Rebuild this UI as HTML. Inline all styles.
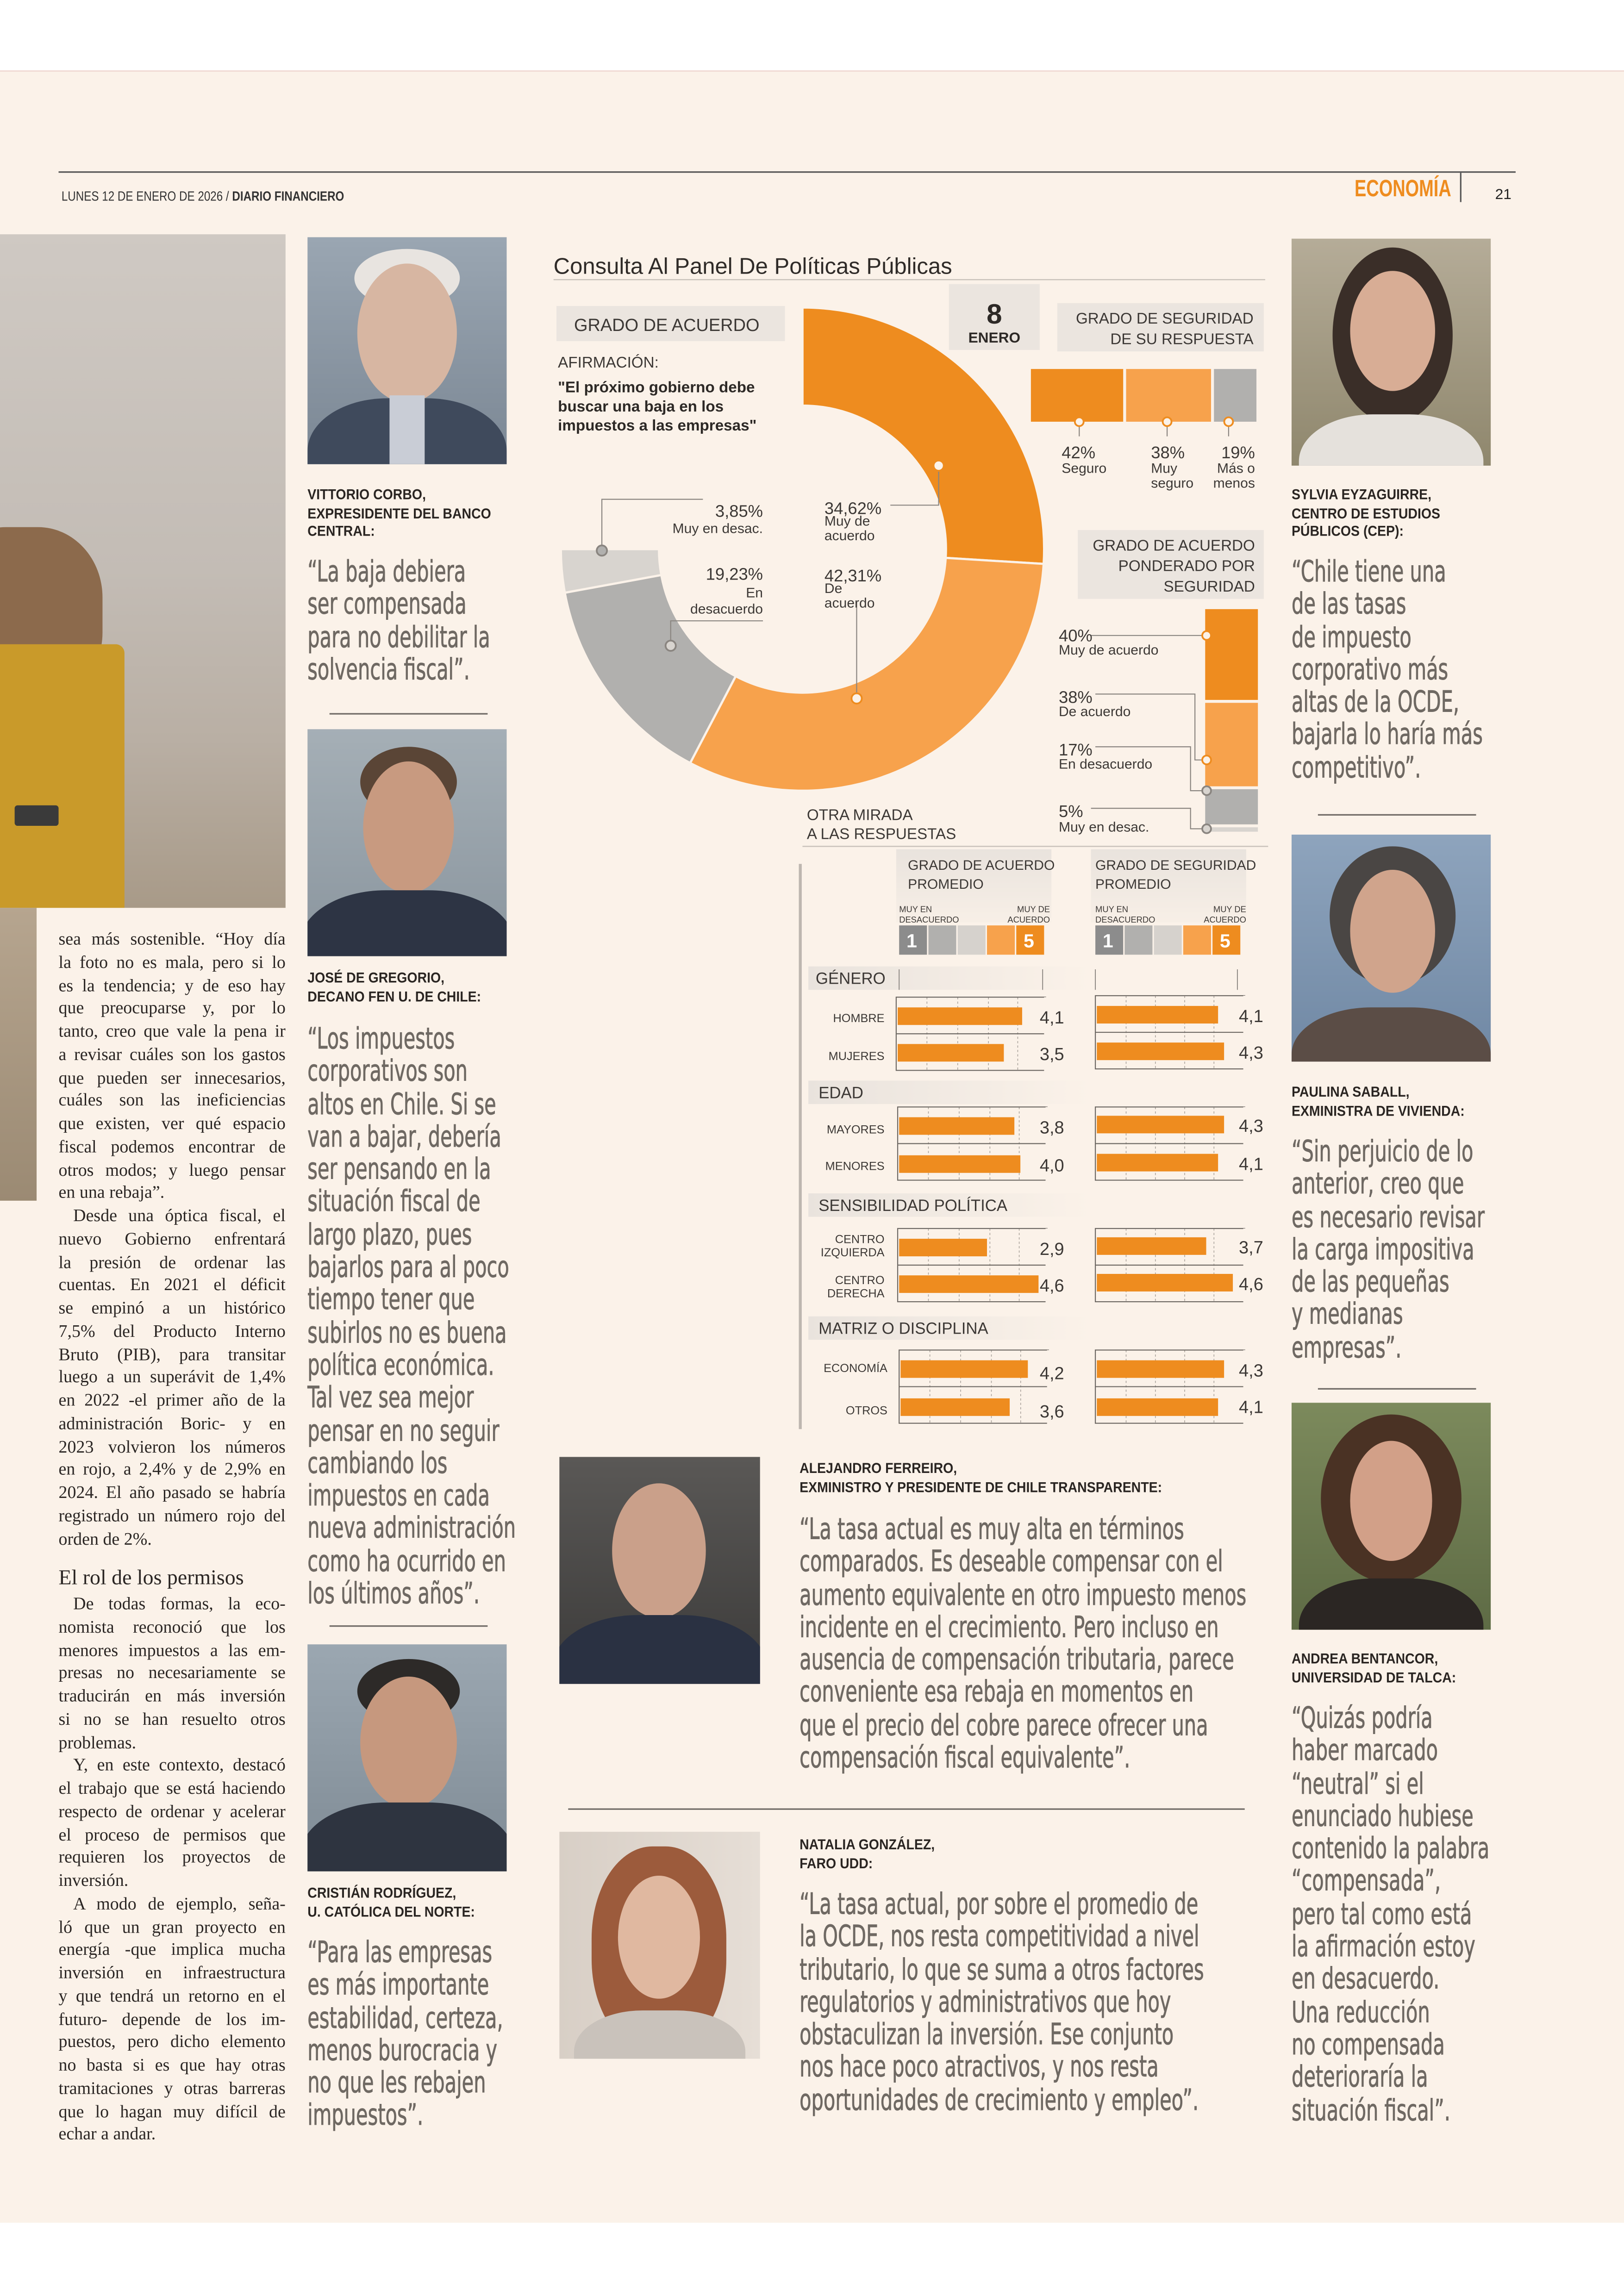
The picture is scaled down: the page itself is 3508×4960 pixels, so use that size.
<!DOCTYPE html>
<html><head><meta charset="utf-8"><style>
html,body{margin:0;padding:0;width:3508px;height:4958px;overflow:hidden;background:#fff}
#w{position:absolute;left:0;top:0;width:1109px;height:1568px;transform:scale(3.1632);transform-origin:0 0;background:#fff;font-family:"Liberation Sans",sans-serif}
.pg{position:absolute;left:0;top:48px;width:1109px;height:1470px;background:#fbf2e9;border-top:1px solid #f1dcd6}
.a{position:absolute}
.ph{position:absolute;overflow:hidden}
.ph div{position:absolute;border-radius:50%}
.cap{position:absolute;font-family:"Liberation Sans Narrow","Liberation Sans",sans-serif;font-weight:bold;font-size:10px;line-height:12.5px;color:#2a2522;white-space:nowrap;transform:scaleX(.9);transform-origin:0 0}
.q{position:absolute;font-family:"Liberation Sans Narrow","DejaVu Sans Condensed",sans-serif;font-size:20px;line-height:22.3px;color:#6f6963;white-space:nowrap;transform:scaleX(.73);transform-origin:0 0;-webkit-text-stroke:0.3px #6f6963}
.body{position:absolute;left:40px;width:155px;font-family:"Liberation Serif",serif;font-size:12px;line-height:15.75px;color:#2b2624}
.body div{text-align:justify;text-align-last:justify;white-space:nowrap;overflow:hidden;height:15.75px}
.body div.l{text-align-last:left}
.body div.i{text-indent:10px}
.sep{position:absolute;height:1px;background:#6e6964}
svg text{font-family:"Liberation Sans Narrow","Liberation Sans",sans-serif}
</style></head><body><div id="w">
<div class="pg"></div>
<div class="a" style="left:0;top:1518px;width:1109px;height:50px;background:#fff"></div>
<!-- header -->
<div class="a" style="left:40px;top:117px;width:995px;height:1px;background:#555"></div>
<div class="a" style="left:42px;top:129px;font-size:9px;color:#333;transform:scaleX(.85);transform-origin:0 0">LUNES 12 DE ENERO DE 2026 / <b>DIARIO FINANCIERO</b></div>
<div class="a" style="left:925px;top:121px;font-size:16px;font-weight:bold;color:#ee8c1f;transform:scaleX(.75);transform-origin:0 0">ECONOMÍA</div>
<div class="a" style="left:997px;top:118px;width:1px;height:20px;background:#555"></div>
<div class="a" style="left:1021px;top:128px;font-size:10px;color:#222">21</div>

<!-- big left photo -->
<div class="ph" style="left:0;top:160px;width:195px;height:460px;background:linear-gradient(180deg,#cfc9c3 0%,#c3bcb5 50%,#b9afa4 75%,#a89a88 100%)">
 <div style="left:-40px;top:200px;width:110px;height:120px;background:#8c6a4c;border-radius:40%"></div>
 <div style="left:-10px;top:280px;width:95px;height:190px;background:#c99a2a;border-radius:6px"></div>
 <div style="left:10px;top:390px;width:30px;height:14px;background:#3a3a3a;border-radius:2px"></div>
</div>
<div class="ph" style="left:0;top:620px;width:25px;height:200px;background:linear-gradient(180deg,#b6a58f,#9b8a73)"></div>

<!-- left body text -->
<div class="body" style="top:634px">
<div>sea más sostenible. “Hoy día</div><div>la foto no es mala, pero si lo</div><div>es la tendencia; y de eso hay</div><div>que preocuparse y, por lo</div><div>tanto, creo que vale la pena ir</div><div>a revisar cuáles son los gastos</div><div>que pueden ser innecesarios,</div><div>cuáles son las ineficiencias</div><div>que existen, ver qué espacio</div><div>fiscal podemos encontrar de</div><div>otros modos; y luego pensar</div><div class="l">en una rebaja”.</div>
<div class="i">Desde una óptica fiscal, el</div><div>nuevo Gobierno enfrentará</div><div>la presión de ordenar las</div><div>cuentas. En 2021 el déficit</div><div>se empinó a un histórico</div><div>7,5% del Producto Interno</div><div>Bruto (PIB), para transitar</div><div>luego a un superávit de 1,4%</div><div>en 2022 -el primer año de la</div><div>administración Boric- y en</div><div>2023 volvieron los números</div><div>en rojo, a 2,4% y de 2,9% en</div><div>2024. El año pasado se habría</div><div>registrado un número rojo del</div><div class="l">orden de 2%.</div>
</div>
<div class="a" style="left:40px;top:1070px;font-family:'Liberation Serif',serif;font-size:14.5px;color:#2b2624">El rol de los permisos</div>
<div class="body" style="top:1088px">
<div class="i">De todas formas, la eco-</div><div>nomista reconoció que los</div><div>menores impuestos a las em-</div><div>presas no necesariamente se</div><div>traducirán en más inversión</div><div>si no se han resuelto otros</div><div class="l">problemas.</div>
<div class="i">Y, en este contexto, destacó</div><div>el trabajo que se está haciendo</div><div>respecto de ordenar y acelerar</div><div>el proceso de permisos que</div><div>requieren los proyectos de</div><div class="l">inversión.</div>
<div class="i">A modo de ejemplo, seña-</div><div>ló que un gran proyecto en</div><div>energía -que implica mucha</div><div>inversión en infraestructura</div><div>y que tendrá un retorno en el</div><div>futuro- depende de los im-</div><div>puestos, pero dicho elemento</div><div>no basta si es que hay otras</div><div>tramitaciones y otras barreras</div><div>que lo hagan muy difícil de</div><div class="l">echar a andar.</div>
</div>

<!-- column 2 -->
<div class="ph" style="left:210px;top:162px;width:136px;height:155px;background:linear-gradient(180deg,#9aa6b2,#7b8794)">
 <div style="left:32px;top:8px;width:72px;height:40px;background:#e8e4e0"></div>
 <div style="left:34px;top:18px;width:68px;height:95px;background:#d7b6a2"></div>
 <div style="left:0;top:110px;width:136px;height:90px;background:#3f4a5c;border-radius:40% 40% 0 0"></div>
 <div style="left:56px;top:108px;width:24px;height:50px;background:#c9cdd6;border-radius:0"></div>
</div>
<div class="cap" style="left:210px;top:333px">VITTORIO CORBO,<br>EXPRESIDENTE DEL BANCO<br>CENTRAL:</div>
<div class="q" style="left:210px;top:379px">“La baja debiera<br>ser compensada<br>para no debilitar la<br>solvencia fiscal”.</div>
<div class="sep" style="left:225px;top:487px;width:108px"></div>
<div class="ph" style="left:210px;top:498px;width:136px;height:155px;background:linear-gradient(180deg,#a5afb6,#8a959e)">
 <div style="left:36px;top:12px;width:66px;height:48px;background:#5a4536"></div>
 <div style="left:38px;top:22px;width:62px;height:90px;background:#c89a80"></div>
 <div style="left:-5px;top:110px;width:146px;height:90px;background:#2d3444;border-radius:40% 40% 0 0"></div>
</div>
<div class="cap" style="left:210px;top:663px">JOSÉ DE GREGORIO,<br>DECANO FEN U. DE CHILE:</div>
<div class="q" style="left:210px;top:698px">“Los impuestos<br>corporativos son<br>altos en Chile. Si se<br>van a bajar, debería<br>ser pensando en la<br>situación fiscal de<br>largo plazo, pues<br>bajarlos para al poco<br>tiempo tener que<br>subirlos no es buena<br>política económica.<br>Tal vez sea mejor<br>pensar en no seguir<br>cambiando los<br>impuestos en cada<br>nueva administración<br>como ha ocurrido en<br>los últimos años”.</div>
<div class="sep" style="left:225px;top:1110px;width:108px"></div>
<div class="ph" style="left:210px;top:1123px;width:136px;height:155px;background:linear-gradient(180deg,#9ba7b1,#7f8b95)">
 <div style="left:34px;top:10px;width:70px;height:44px;background:#2d2a28"></div>
 <div style="left:36px;top:22px;width:66px;height:90px;background:#c6987e"></div>
 <div style="left:-5px;top:108px;width:146px;height:90px;background:#2e3440;border-radius:40% 40% 0 0"></div>
</div>
<div class="cap" style="left:210px;top:1288px">CRISTIÁN RODRÍGUEZ,<br>U. CATÓLICA DEL NORTE:</div>
<div class="q" style="left:210px;top:1322px">“Para las empresas<br>es más importante<br>estabilidad, certeza,<br>menos burocracia y<br>no que les rebajen<br>impuestos”.</div>

<!-- right column -->
<div class="ph" style="left:882px;top:163px;width:136px;height:155px;background:linear-gradient(180deg,#b5ac98,#8f876d)">
 <div style="left:28px;top:6px;width:82px;height:120px;background:#3a2e28"></div>
 <div style="left:40px;top:22px;width:58px;height:82px;background:#d8ad95"></div>
 <div style="left:5px;top:120px;width:126px;height:80px;background:#e5e1dc;border-radius:40% 40% 0 0"></div>
</div>
<div class="cap" style="left:882px;top:333px">SYLVIA EYZAGUIRRE,<br>CENTRO DE ESTUDIOS<br>PÚBLICOS (CEP):</div>
<div class="q" style="left:882px;top:379px">“Chile tiene una<br>de las tasas<br>de impuesto<br>corporativo más<br>altas de la OCDE,<br>bajarla lo haría más<br>competitivo”.</div>
<div class="sep" style="left:900px;top:556px;width:108px"></div>
<div class="ph" style="left:882px;top:570px;width:136px;height:155px;background:linear-gradient(180deg,#8ea4bd,#7088a4)">
 <div style="left:26px;top:8px;width:86px;height:95px;background:#4a4644"></div>
 <div style="left:40px;top:24px;width:58px;height:84px;background:#d0a48c"></div>
 <div style="left:0;top:118px;width:136px;height:80px;background:#5b4d46;border-radius:40% 40% 0 0"></div>
</div>
<div class="cap" style="left:882px;top:741px">PAULINA SABALL,<br>EXMINISTRA DE VIVIENDA:</div>
<div class="q" style="left:882px;top:775px">“Sin perjuicio de lo<br>anterior, creo que<br>es necesario revisar<br>la carga impositiva<br>de las pequeñas<br>y medianas<br>empresas”.</div>
<div class="sep" style="left:900px;top:948px;width:108px"></div>
<div class="ph" style="left:882px;top:958px;width:136px;height:155px;background:linear-gradient(180deg,#7c8a5c,#5e6b45)">
 <div style="left:20px;top:8px;width:96px;height:115px;background:#4a3224"></div>
 <div style="left:40px;top:26px;width:56px;height:82px;background:#d2a088"></div>
 <div style="left:5px;top:120px;width:126px;height:80px;background:#2b2623;border-radius:40% 40% 0 0"></div>
</div>
<div class="cap" style="left:882px;top:1128px">ANDREA BENTANCOR,<br>UNIVERSIDAD DE TALCA:</div>
<div class="q" style="left:882px;top:1162px">“Quizás podría<br>haber marcado<br>“neutral” si el<br>enunciado hubiese<br>contenido la palabra<br>“compensada”,<br>pero tal como está<br>la afirmación estoy<br>en desacuerdo.<br>Una reducción<br>no compensada<br>deterioraría la<br>situación fiscal”.</div>

<!-- middle bottom -->
<div class="ph" style="left:382px;top:995px;width:137px;height:155px;background:linear-gradient(180deg,#5a5856,#3c3b3a)">
 <div style="left:36px;top:18px;width:64px;height:92px;background:#caa08a"></div>
 <div style="left:-5px;top:108px;width:147px;height:90px;background:#2a3142;border-radius:40% 40% 0 0"></div>
</div>
<div class="cap" style="left:546px;top:998px">ALEJANDRO FERREIRO,<br>EXMINISTRO Y PRESIDENTE DE CHILE TRANSPARENTE:</div>
<div class="q" style="left:546px;top:1033px">“La tasa actual es muy alta en términos<br>comparados. Es deseable compensar con el<br>aumento equivalente en otro impuesto menos<br>incidente en el crecimiento. Pero incluso en<br>ausencia de compensación tributaria, parece<br>conveniente esa rebaja en momentos en<br>que el precio del cobre parece ofrecer una<br>compensación fiscal equivalente”.</div>
<div class="sep" style="left:388px;top:1235px;width:462px"></div>
<div class="ph" style="left:382px;top:1251px;width:137px;height:155px;background:linear-gradient(90deg,#d8cfc6,#e6ded6)">
 <div style="left:22px;top:10px;width:92px;height:140px;background:#9c5b3c;border-radius:45%"></div>
 <div style="left:40px;top:30px;width:56px;height:84px;background:#e0b8a0"></div>
 <div style="left:10px;top:122px;width:117px;height:70px;background:#c9c2bb;border-radius:40% 40% 0 0"></div>
</div>
<div class="cap" style="left:546px;top:1255px">NATALIA GONZÁLEZ,<br>FARO UDD:</div>
<div class="q" style="left:546px;top:1289px">“La tasa actual, por sobre el promedio de<br>la OCDE, nos resta competitividad a nivel<br>tributario, lo que se suma a otros factores<br>regulatorios y administrativos que hoy<br>obstaculizan la inversión. Ese conjunto<br>nos hace poco atractivos, y nos resta<br>oportunidades de crecimiento y empleo”.</div>

<!-- chart -->
<svg class="a" style="left:0;top:0" width="1109" height="1568" viewBox="0 0 1109 1568">
<defs>
<linearGradient id="gb" x1="0" x2="1"><stop offset="0" stop-color="#e9e3dd"/><stop offset="1" stop-color="#e9e3dd" stop-opacity="0"/></linearGradient>
<linearGradient id="gv" x1="0" y1="0" x2="0" y2="1"><stop offset="0" stop-color="#e9e3dd"/><stop offset="1" stop-color="#e9e3dd" stop-opacity="0.2"/></linearGradient>
</defs>
<text x="378" y="187" font-size="15.5" fill="#2f2b28">Consulta Al Panel De Políticas Públicas</text>
<line x1="378" y1="191" x2="864" y2="191" stroke="#c9c2bb" stroke-width="0.8"/>
<rect x="380" y="209" width="156" height="24" fill="#ebe5df"/>
<text x="392" y="226" font-size="12" fill="#3c3835">GRADO DE ACUERDO</text>
<rect x="648" y="194" width="62" height="45" fill="#ebe5df"/>
<text x="679" y="221" font-size="19" font-weight="bold" fill="#2d2926" text-anchor="middle">8</text>
<text x="679" y="234" font-size="10" font-weight="bold" fill="#2d2926" text-anchor="middle">ENERO</text>
<rect x="722" y="207" width="141" height="33" fill="#ebe5df"/>
<text x="856" y="221" font-size="10.5" fill="#3c3835" text-anchor="end">GRADO DE SEGURIDAD</text>
<text x="856" y="235" font-size="10.5" fill="#3c3835" text-anchor="end">DE SU RESPUESTA</text>
<text x="381" y="251" font-size="10.5" fill="#3c3835">AFIRMACIÓN:</text>
<text x="381" y="268" font-size="10.5" font-weight="bold" fill="#2d2926">"El próximo gobierno debe</text>
<text x="381" y="281" font-size="10.5" font-weight="bold" fill="#2d2926">buscar una baja en los</text>
<text x="381" y="294" font-size="10.5" font-weight="bold" fill="#2d2926">impuestos a las empresas"</text>
<!-- donut -->
<g stroke="#fbf2e9" stroke-width="1.5">
<path d="M548,210 A165,165 0 0 1 712.7,385.1 L645.8,381 A98,98 0 0 0 548,277 Z" fill="#ee8c1f"/>
<path d="M712.7,385.1 A165,165 0 0 1 471.3,521.1 L502.4,461.8 A98,98 0 0 0 645.8,381 Z" fill="#f7a24c"/>
<path d="M471.3,521.1 A165,165 0 0 1 385.7,404.8 L451.6,392.7 A98,98 0 0 0 502.4,461.8 Z" fill="#b1b0ae"/>
<path d="M385.7,404.8 A165,165 0 0 1 383,375 L450,375 A98,98 0 0 0 451.6,392.7 Z" fill="#d8d4cf"/>
</g>
<g fill="none" stroke="#8a8580" stroke-width="0.7">
<polyline points="608,345 641,345 641,318"/>
<polyline points="585,411 585,477"/>
<polyline points="480,341 411,341 411,376"/>
<polyline points="521,424 458,424 458,441"/>
</g>
<g fill="#fbf2e9" stroke-width="1.2">
<circle cx="641" cy="318" r="3.5" stroke="#ee8c1f"/>
<circle cx="585" cy="477" r="3.5" stroke="#ee8c1f"/>
<circle cx="411" cy="376" r="3.5" stroke="#8a8580" fill="#b1b0ae"/>
<circle cx="458" cy="441" r="3.5" stroke="#8a8580" fill="#d8d4cf"/>
</g>
<g font-size="11.5" fill="#3c3835">
<text x="563" y="351">34,62%</text>
<text x="563" y="397">42,31%</text>
<text x="521" y="353" text-anchor="end">3,85%</text>
<text x="521" y="396" text-anchor="end">19,23%</text>
</g>
<g font-size="9.5" fill="#3c3835">
<text x="563" y="359">Muy de</text><text x="563" y="369">acuerdo</text>
<text x="563" y="405">De</text><text x="563" y="415">acuerdo</text>
<text x="521" y="364" text-anchor="end">Muy en desac.</text>
<text x="521" y="408" text-anchor="end">En</text><text x="521" y="419" text-anchor="end">desacuerdo</text>
</g>
<!-- seguridad bar -->
<rect x="704" y="252" width="63" height="36" fill="#ee8c1f"/>
<rect x="769" y="252" width="58" height="36" fill="#f7a24c"/>
<rect x="829" y="252" width="29" height="36" fill="#b1b0ae"/>
<g stroke="#8a8580" stroke-width="0.7"><line x1="737" y1="291" x2="737" y2="298"/><line x1="797" y1="291" x2="797" y2="298"/><line x1="839" y1="291" x2="839" y2="298"/></g>
<g fill="#fbf2e9" stroke="#ee8c1f" stroke-width="1.2"><circle cx="737" cy="288" r="3"/><circle cx="797" cy="288" r="3"/><circle cx="839" cy="288" r="3"/></g>
<g font-size="11.5" fill="#3c3835"><text x="725" y="313">42%</text><text x="786" y="313">38%</text><text x="857" y="313" text-anchor="end">19%</text></g>
<g font-size="9.5" fill="#3c3835"><text x="725" y="323">Seguro</text><text x="786" y="323">Muy</text><text x="786" y="333">seguro</text><text x="857" y="323" text-anchor="end">Más o</text><text x="857" y="333" text-anchor="end">menos</text></g>
<!-- ponderado -->
<rect x="736" y="362" width="127" height="47" fill="#ebe5df"/>
<g font-size="10.5" fill="#3c3835" text-anchor="end"><text x="857" y="376">GRADO DE ACUERDO</text><text x="857" y="390">PONDERADO POR</text><text x="857" y="404">SEGURIDAD</text></g>
<rect x="823" y="416" width="36" height="62" fill="#ee8c1f"/>
<rect x="823" y="480" width="36" height="57" fill="#f7a24c"/>
<rect x="823" y="539" width="36" height="24" fill="#b1b0ae"/>
<rect x="823" y="565" width="36" height="3" fill="#d8d4cf"/>
<g fill="none" stroke="#8a8580" stroke-width="0.7">
<line x1="745" y1="434" x2="823" y2="434"/>
<polyline points="748,474 816,474 816,519 823,519"/>
<polyline points="748,510 813,510 813,540 823,540"/>
<polyline points="745,552 813,552 813,566 823,566"/>
</g>
<g stroke-width="1.2"><circle cx="824" cy="434" r="3" fill="#fbf2e9" stroke="#ee8c1f"/><circle cx="824" cy="519" r="3" fill="#fbf2e9" stroke="#ee8c1f"/><circle cx="824" cy="540" r="3" fill="#d8d4cf" stroke="#8a8580"/><circle cx="824" cy="566" r="3" fill="#d8d4cf" stroke="#8a8580"/></g>
<g font-size="11.5" fill="#3c3835"><text x="723" y="438">40%</text><text x="723" y="480">38%</text><text x="723" y="516">17%</text><text x="723" y="558">5%</text></g>
<g font-size="9.5" fill="#3c3835"><text x="723" y="447">Muy de acuerdo</text><text x="723" y="489">De acuerdo</text><text x="723" y="525">En desacuerdo</text><text x="723" y="568">Muy en desac.</text></g>
<g font-size="10.5" fill="#3c3835"><text x="551" y="560">OTRA MIRADA</text><text x="551" y="573">A LAS RESPUESTAS</text></g>
<line x1="548" y1="578" x2="866" y2="578" stroke="#c9c2bb" stroke-width="0.8"/>
<!-- bar panel -->
<line x1="546.5" y1="590" x2="546.5" y2="976" stroke="#bdb6af" stroke-width="2"/>
<rect x="612" y="580" width="106" height="50" fill="url(#gv)"/>
<rect x="745" y="580" width="106" height="50" fill="url(#gv)"/>
<g font-size="9.5" fill="#3c3835"><text x="620" y="594">GRADO DE ACUERDO</text><text x="620" y="607">PROMEDIO</text><text x="748" y="594">GRADO DE SEGURIDAD</text><text x="748" y="607">PROMEDIO</text></g>
<g font-size="5.8" fill="#3c3835"><text x="614" y="623">MUY EN</text><text x="614" y="630">DESACUERDO</text><text x="717" y="623" text-anchor="end">MUY DE</text><text x="717" y="630" text-anchor="end">ACUERDO</text>
<text x="748" y="623">MUY EN</text><text x="748" y="630">DESACUERDO</text><text x="851" y="623" text-anchor="end">MUY DE</text><text x="851" y="630" text-anchor="end">ACUERDO</text></g>
<g>
<rect x="614" y="632" width="19" height="20" fill="#8c8c8c"/><rect x="634" y="632" width="19" height="20" fill="#b1b0ae"/><rect x="654" y="632" width="19" height="20" fill="#d6d2cd"/><rect x="674" y="632" width="19" height="20" fill="#f7a24c"/><rect x="694" y="632" width="19" height="20" fill="#ee8c1f"/>
<rect x="748" y="632" width="19" height="20" fill="#8c8c8c"/><rect x="768" y="632" width="19" height="20" fill="#b1b0ae"/><rect x="788" y="632" width="19" height="20" fill="#d6d2cd"/><rect x="808" y="632" width="19" height="20" fill="#f7a24c"/><rect x="828" y="632" width="19" height="20" fill="#ee8c1f"/>
</g>
<g font-size="13" font-weight="bold" fill="#fff"><text x="619" y="647">1</text><text x="699" y="647">5</text><text x="753" y="647">1</text><text x="833" y="647">5</text></g>
<!-- section bands -->
<rect x="552" y="660" width="193" height="16" fill="url(#gb)"/><rect x="552" y="738" width="193" height="16" fill="url(#gb)"/><rect x="552" y="815" width="193" height="16" fill="url(#gb)"/><rect x="552" y="899" width="193" height="16" fill="url(#gb)"/>
<g font-size="11" fill="#3c3835"><text x="557" y="672">GÉNERO</text><text x="559" y="750">EDAD</text><text x="559" y="827">SENSIBILIDAD POLÍTICA</text><text x="559" y="911">MATRIZ O DISCIPLINA</text></g>
<g stroke="#8a8580" stroke-width="0.6" fill="none"><polyline points="614,662 614,676"/><polyline points="712,662 712,676"/><polyline points="748,662 748,676"/><polyline points="845,662 845,676"/></g>
<!-- dotted grids -->
<g stroke="#a8a19a" stroke-width="0.5" stroke-dasharray="1.5,1.5">
<path d="M633,681V731M654,681V731M675,681V731M695,681V731 M769,680V730M789,680V730M809,680V730M829,680V730
M634,756V806M655,756V806M676,756V806M696,756V806 M769,756V806M789,756V806M809,756V806M829,756V806
M634,839V889M655,839V889M676,839V889M696,839V889 M769,839V889M789,839V889M809,839V889M829,839V889
M635,922V972M656,922V972M677,922V972M697,922V972 M769,922V972M789,922V972M809,922V972M829,922V972"/>
</g>
<g stroke="#6e6964" stroke-width="0.7" fill="none">
<rect x="612" y="681" width="102" height="50"/><line x1="612" y1="706" x2="714" y2="706"/>
<rect x="748" y="680" width="102" height="50"/><line x1="748" y1="705" x2="850" y2="705"/>
<rect x="613" y="756" width="102" height="50"/><line x1="613" y1="781" x2="715" y2="781"/>
<rect x="748" y="756" width="102" height="50"/><line x1="748" y1="781" x2="850" y2="781"/>
<rect x="613" y="839" width="102" height="50"/><line x1="613" y1="864" x2="715" y2="864"/>
<rect x="748" y="839" width="102" height="50"/><line x1="748" y1="864" x2="850" y2="864"/>
<rect x="614" y="922" width="102" height="50"/><line x1="614" y1="947" x2="716" y2="947"/>
<rect x="748" y="922" width="102" height="50"/><line x1="748" y1="947" x2="850" y2="947"/>
</g>
<g stroke="#fbf2e9" stroke-width="2"><line x1="714" y1="681" x2="714" y2="732"/><line x1="850" y1="680" x2="850" y2="731"/><line x1="715" y1="756" x2="715" y2="807"/><line x1="850" y1="756" x2="850" y2="807"/><line x1="715" y1="839" x2="715" y2="890"/><line x1="850" y1="839" x2="850" y2="890"/><line x1="716" y1="922" x2="716" y2="973"/><line x1="850" y1="922" x2="850" y2="973"/></g>
<g fill="#ee8c1f">
<rect x="613" y="688" width="85" height="12"/><rect x="613" y="713" width="72.5" height="12"/>
<rect x="749" y="687" width="82.8" height="12"/><rect x="749" y="712" width="86.9" height="12"/>
<rect x="614" y="763" width="78.7" height="12"/><rect x="614" y="789" width="82.8" height="12"/>
<rect x="749" y="762" width="86.9" height="12"/><rect x="749" y="788" width="82.8" height="12"/>
<rect x="614" y="846" width="60" height="12"/><rect x="614" y="871" width="95.2" height="12"/>
<rect x="749" y="845" width="74.7" height="12"/><rect x="749" y="870" width="92.9" height="12"/>
<rect x="615" y="929" width="86.9" height="12"/><rect x="615" y="955" width="74.5" height="12"/>
<rect x="749" y="929" width="86.9" height="12"/><rect x="749" y="955" width="82.8" height="12"/>
</g>
<g font-size="8" fill="#3c3835" text-anchor="end">
<text x="604" y="698">HOMBRE</text><text x="604" y="724">MUJERES</text>
<text x="604" y="774">MAYORES</text><text x="604" y="799">MENORES</text>
<text x="604" y="849">CENTRO</text><text x="604" y="858">IZQUIERDA</text><text x="604" y="877">CENTRO</text><text x="604" y="886">DERECHA</text>
<text x="606" y="937">ECONOMÍA</text><text x="606" y="966">OTROS</text>
</g>
<g font-size="12" fill="#3c3835">
<text x="710" y="699">4,1</text><text x="710" y="724">3,5</text><text x="846" y="698">4,1</text><text x="846" y="723">4,3</text>
<text x="710" y="774">3,8</text><text x="710" y="800">4,0</text><text x="846" y="773">4,3</text><text x="846" y="799">4,1</text>
<text x="710" y="857">2,9</text><text x="710" y="882">4,6</text><text x="846" y="856">3,7</text><text x="846" y="881">4,6</text>
<text x="710" y="942">4,2</text><text x="710" y="968">3,6</text><text x="846" y="940">4,3</text><text x="846" y="965">4,1</text>
</g>
</svg>
</div></body></html>
